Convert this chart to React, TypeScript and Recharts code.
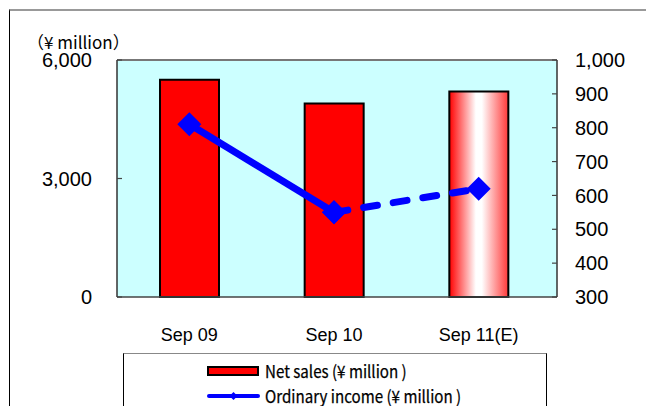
import React from 'react';
import {
  ComposedChart, Bar, Line, XAxis, YAxis, Cell, ReferenceLine, Legend, CartesianGrid,
} from 'recharts';

const categories = ['Sep 09', 'Sep 10', 'Sep 11(E)'];
const netSales = [5500, 4900, 5200];
const ordinaryIncome = [810, 550, null];
const ordinaryIncomeEst = [null, 550, 620];
const leftTicks = [0, 3000, 6000];
const rightTicks = [300, 400, 500, 600, 700, 800, 900, 1000];

const data = categories.map((c, i) => ({
  name: c,
  sales: netSales[i],
  income: ordinaryIncome[i],
  incomeEst: ordinaryIncomeEst[i],
}));

const fmt = (v: number) => v.toLocaleString('en-US');
const sans = "'Liberation Sans', Arial, sans-serif";

const LeftTick = (props: any) => {
  const { x, y, payload } = props;
  const ax = x + 25;
  return (
    <g>
      <line x1={ax} y1={y} x2={ax + 5} y2={y} stroke="#444" strokeWidth={1.2} />
      <text x={x} y={y} dy="0.36em" textAnchor="end" fontSize={20} fill="#000"
        fontFamily={sans}>{fmt(payload.value)}</text>
    </g>
  );
};

const RightTick = (props: any) => {
  const { x, y, payload } = props;
  const ax = x - 18;
  return (
    <g>
      <line x1={ax} y1={y} x2={ax - 5} y2={y} stroke="#444" strokeWidth={1.2} />
      <text x={x} y={y} dy="0.36em" textAnchor="start" fontSize={20} fill="#000"
        fontFamily={sans}>{fmt(payload.value)}</text>
    </g>
  );
};

const Diamond = (props: any) => {
  const { cx, cy, value } = props;
  if (cx == null || cy == null || value == null) return <g />;
  const r = 12;
  return (
    <path d={`M${cx},${cy - r} L${cx + r},${cy} L${cx},${cy + r} L${cx - r},${cy} Z`} fill="#0000FF" />
  );
};

const UnitLabel = (props: any) => {
  const { viewBox } = props;
  return (
    <text x={viewBox.x + 27} y={viewBox.y - 11} fontSize={17} fill="#000"
      fontFamily="'Noto Sans CJK JP', sans-serif">（¥ million）</text>
  );
};

const legendFont = "'Noto Sans CJK JP', sans-serif";
const legendText: React.CSSProperties = {
  position: 'absolute', left: 141, fontFamily: legendFont, fontSize: 17, lineHeight: '18px',
  color: '#000', whiteSpace: 'nowrap', transform: 'scaleX(0.89)', transformOrigin: 'left center',
  WebkitTextStroke: '0.25px #000',
};

const LegendBox = () => (
  <div style={{
    width: 424, height: 60, boxSizing: 'border-box', borderTop: '1.5px solid #888',
    borderLeft: '1px solid #000', borderRight: '1px solid #000', background: '#fff', position: 'relative',
  }}>
    <svg width={60} height={60} style={{ position: 'absolute', left: 82, top: 0 }}>
      <rect x={2} y={13} width={50} height={8} fill="#FF0000" stroke="#000" strokeWidth={2} />
      <line x1={3} y1={42} x2={52} y2={42} stroke="#0000FF" strokeWidth={4} strokeLinecap="round" />
      <path d="M27.5,38 L31.5,42 L27.5,46 L23.5,42 Z" fill="#0000FF" />
    </svg>
    <div style={{ ...legendText, top: 8 }}>Net sales (¥ million )</div>
    <div style={{ ...legendText, top: 33 }}>Ordinary income (¥ million )</div>
  </div>
);

export default function App() {
  return (
    <div style={{ position: 'absolute', left: 0, top: 0, width: 646, height: 406, overflow: 'hidden', background: '#fff' }}>
      <div style={{ position: 'absolute', left: 9, top: 9, width: 660, height: 420, borderTop: '2px solid #999', borderLeft: '1px solid #000' }} />
      <div style={{ position: 'absolute', left: 0, top: 0 }}>
        <ComposedChart width={646} height={406} data={data}
          margin={{ top: 60, right: 0, left: 0, bottom: 0 }} barCategoryGap={0}>
          <defs>
            <linearGradient id="estGrad" x1="0" y1="0" x2="1" y2="0">
              <stop offset="0%" stopColor="#FF0000" />
              <stop offset="45%" stopColor="#FFFFFF" />
              <stop offset="55%" stopColor="#FFFFFF" />
              <stop offset="100%" stopColor="#FF3838" />
            </linearGradient>
          </defs>
          <CartesianGrid horizontal={false} vertical={false} fill="#CCFFFF" yAxisId="left" />
          <XAxis dataKey="name" height={109} tickLine={false} tickSize={0} tickMargin={31}
            padding={{ left: 0, right: 6 }}
            axisLine={{ stroke: '#444', strokeWidth: 1.5 }} interval={0}
            tick={{ fontSize: 18, fill: '#000', fontFamily: sans }} />
          <YAxis yAxisId="left" orientation="left" width={117} domain={[0, 6000]} ticks={leftTicks}
            tickLine={false} tickSize={0} tickMargin={25} interval={0}
            axisLine={{ stroke: '#333', strokeWidth: 1.5 }} tick={<LeftTick />}
            label={<UnitLabel />} />
          <YAxis yAxisId="right" orientation="right" width={89} domain={[300, 1000]} ticks={rightTicks}
            tickLine={false} tickSize={0} tickMargin={18} interval={0}
            axisLine={{ stroke: '#333', strokeWidth: 1.5 }} tick={<RightTick />} />
          <ReferenceLine yAxisId="left" y={6000} stroke="#777" strokeWidth={2} />
          <Bar yAxisId="left" dataKey="sales" barSize={59} stroke="#000" strokeWidth={2} isAnimationActive={false}>
            {data.map((d, i) => (
              <Cell key={d.name} fill={i === 2 ? 'url(#estGrad)' : '#FF0000'} />
            ))}
          </Bar>
          <Line yAxisId="right" dataKey="income" stroke="#0000FF" strokeWidth={7} dot={<Diamond />}
            activeDot={false} isAnimationActive={false} connectNulls={false} />
          <Line yAxisId="right" dataKey="incomeEst" stroke="#0000FF" strokeWidth={7} strokeDasharray="14 16"
            strokeLinecap="round" dot={<Diamond />} activeDot={false} isAnimationActive={false} connectNulls={false} />
          <Legend layout="horizontal" verticalAlign="middle" align="center"
            wrapperStyle={{ left: 123, top: 353, width: 424 }} content={<LegendBox />} />
        </ComposedChart>
      </div>
    </div>
  );
}
